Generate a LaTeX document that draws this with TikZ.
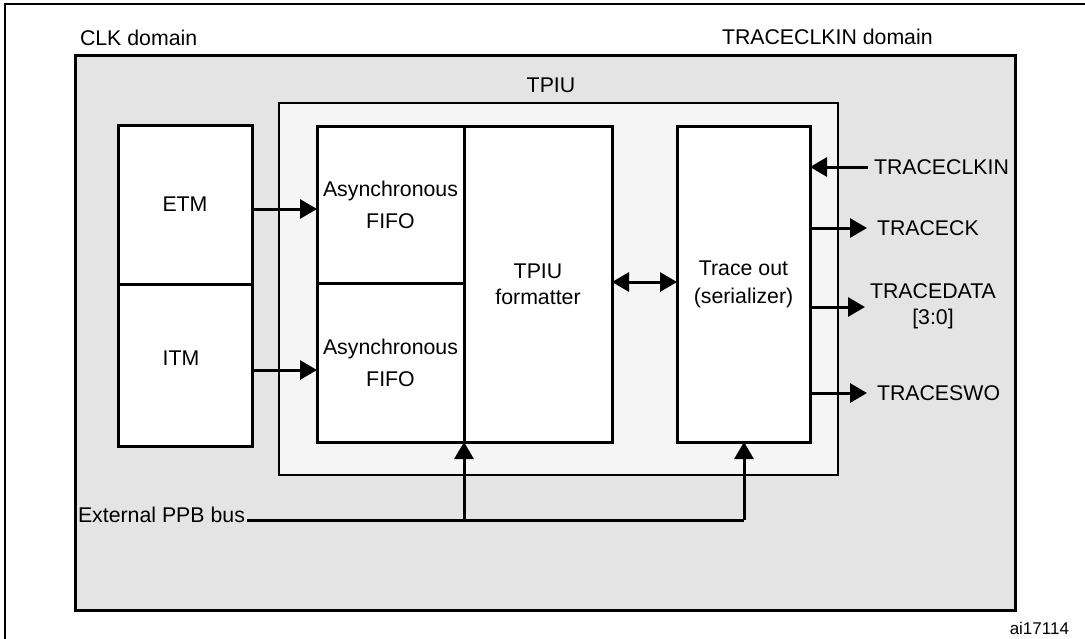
\documentclass[tikz,border=0pt]{standalone}
\usepackage{fontspec}
\setmainfont{Liberation Sans}
\usetikzlibrary{arrows.meta}
\definecolor{domaingray}{HTML}{E4E4E4}
\definecolor{tpiugray}{HTML}{F5F5F5}
\begin{document}
\begin{tikzpicture}[x=1pt,y=-1pt,
  every node/.style={font=\fontsize{21.3}{26}\selectfont, inner sep=0pt, outer sep=0pt},
  blk/.style={draw, line width=3pt, fill=white, anchor=north west, align=center},
  arr/.style={line width=3pt, -{Triangle[length=17pt,width=19pt]}},
  arrboth/.style={line width=3pt, {Triangle[length=17pt,width=19pt]}-{Triangle[length=17pt,width=19pt]}},
  lbl/.style={anchor=west}]
\useasboundingbox (0,0) rectangle (1085,638);
% outer frame
\draw[line width=2pt] (5,640) -- (5,4) -- (1090,4);
% domains
\node[draw, line width=3pt, fill=domaingray, anchor=north west,
      minimum width=940pt, minimum height=555pt] (clk) at (75,55) {};
\node[lbl] (clklabel) at (80,38) {CLK domain};
\node[lbl] (tcdlabel) at (722,37) {TRACECLKIN domain};
% TPIU
\node[draw, line width=1.5pt, fill=tpiugray, anchor=north west,
      minimum width=559pt, minimum height=372pt] (tpiu) at (279,103) {};
\node (tpiulabel) at (551,85) {TPIU};
% sources
\node[blk, minimum width=134pt, minimum height=159pt] (etm) at (118,125) {ETM};
\node[blk, minimum width=134pt, minimum height=162pt] (itm) at (118,284) {};
\node (itmtext) at (181,358) {ITM};
% FIFOs
\node[blk, minimum width=147pt, minimum height=157pt] (fifo1) at (317,126) {Asynchronous\\[6pt]FIFO};
\node[blk, minimum width=147pt, minimum height=159pt] (fifo2) at (317,283) {Asynchronous\\[6pt]FIFO};
% formatter
\node[blk, minimum width=148pt, minimum height=316pt] (fmt) at (464,126) {TPIU\\formatter};
% trace out
\node[blk, minimum width=133pt, minimum height=316pt] (tro) at (677,126) {Trace out\\[2pt](serializer)};
% connections
\draw[arr] (etm.east |- 0,209) -- (fifo1.west |- 0,209);
\draw[arr] (itm.east |- 0,370) -- (fifo2.west |- 0,370);
\draw[arrboth] (fmt.east |- 0,282) -- (tro.west |- 0,282);
% bus
\node[lbl] (ppb) at (78,515) {External PPB bus};
\coordinate (j1) at (464,520);
\coordinate (j2) at (744,520);
\draw[line width=3pt] ([xshift=2pt]ppb.east |- j1) -- (j2);
\draw[arr] (j1) -- (fmt.south west);
\draw[arr] (j2) -- (j2 |- tro.south);
% trace port signals
\node[lbl] (tclkin) at (874,167) {TRACECLKIN};
\node[lbl] (tck) at (877,228) {TRACECK};
\node[align=center] (tdata) at (933,306) {TRACEDATA\\{[3:0]}};
\node[lbl] (tswo) at (877,393) {TRACESWO};
\draw[arr] ([xshift=-6pt]tclkin.west) -- (tro.east |- tclkin.west);
\draw[arr] (tro.east |- tck.west) -- ([xshift=-10pt]tck.west);
\draw[arr] (tro.east |- 0,307) -- (865,307);
\draw[arr] (tro.east |- tswo.west) -- ([xshift=-10pt]tswo.west);
\node[anchor=east, font=\fontsize{17}{20}\selectfont] (fig) at (1069,628) {ai17114};
\end{tikzpicture}
\end{document}
